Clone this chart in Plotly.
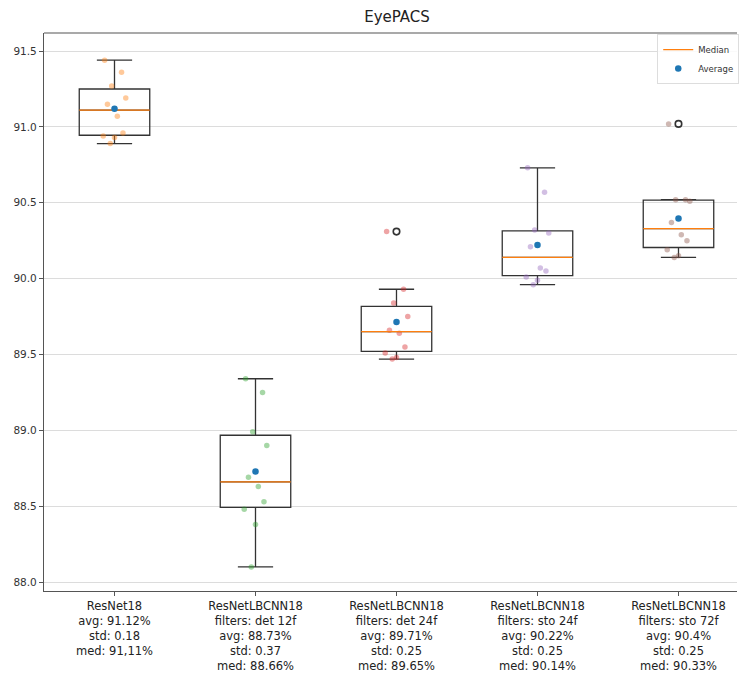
import numpy as np
import plotly.graph_objects as go

# ---------------- data ----------------
chart_title = "EyePACS"
positions = [1, 2, 3, 4, 5]

resnet18 = [91.44, 91.36, 91.27, 91.19, 91.15, 91.07, 90.96, 90.94, 90.93, 90.89]
det_12f = [89.34, 89.25, 88.99, 88.90, 88.69, 88.63, 88.53, 88.48, 88.38, 88.10]
det_24f = [90.31, 89.93, 89.84, 89.75, 89.66, 89.64, 89.55, 89.51, 89.48, 89.47]
sto_24f = [90.73, 90.57, 90.32, 90.30, 90.21, 90.07, 90.05, 90.01, 89.99, 89.96]
sto_72f = [91.02, 90.52, 90.52, 90.51, 90.37, 90.29, 90.25, 90.19, 90.15, 90.14]
series = [resnet18, det_12f, det_24f, sto_24f, sto_72f]

model_labels = ["ResNet18", "ResNetLBCNN18", "ResNetLBCNN18", "ResNetLBCNN18", "ResNetLBCNN18"]
filter_labels = ["", "filters: det 12f", "filters: det 24f", "filters: sto 24f", "filters: sto 72f"]
avg_labels = ["avg: 91.12%", "avg: 88.73%", "avg: 89.71%", "avg: 90.22%", "avg: 90.4%"]
std_labels = ["std: 0.18", "std: 0.37", "std: 0.25", "std: 0.25", "std: 0.25"]
med_labels = ["med: 91,11%", "med: 88.66%", "med: 89.65%", "med: 90.14%", "med: 90.33%"]

y_ticks = [88.0, 88.5, 89.0, 89.5, 90.0, 90.5, 91.0, 91.5]

# ---------------- style ----------------
point_colors = ["rgba(255,127,14,0.42)", "rgba(44,160,44,0.42)", "rgba(214,39,40,0.42)",
                "rgba(148,103,189,0.42)", "rgba(140,86,75,0.42)"]
jitter = [-0.07, 0.05, -0.02, 0.08, -0.05, 0.02, 0.06, -0.08, 0.0, -0.03]
box_w = 0.5
font = "DejaVu Sans"
dark = "#333333"

tick_text = []
for m, f, a, s, md in zip(model_labels, filter_labels, avg_labels, std_labels, med_labels):
    lines = [m] + ([f] if f else []) + [a, s, md]
    tick_text.append("<br>".join(lines))

fig = go.Figure()

stats = []
for pos, vals in zip(positions, series):
    v = np.array(vals)
    q1, med, q3 = np.percentile(v, [25, 50, 75])
    iqr = q3 - q1
    lo_lim, hi_lim = q1 - 1.5 * iqr, q3 + 1.5 * iqr
    inside = v[(v >= lo_lim) & (v <= hi_lim)]
    fliers = v[(v < lo_lim) | (v > hi_lim)]
    stats.append(dict(pos=pos, q1=q1, med=med, q3=q3, lo=inside.min(), hi=inside.max(),
                      fliers=fliers, mean=v.mean()))

# boxes
for s in stats:
    fig.add_trace(go.Box(
        x=[s["pos"]], q1=[s["q1"]], median=[s["med"]], q3=[s["q3"]],
        lowerfence=[s["lo"]], upperfence=[s["hi"]],
        width=box_w, whiskerwidth=0.5, boxpoints=False,
        line=dict(color=dark, width=1.3), fillcolor="rgba(0,0,0,0)",
        showlegend=False, hoverinfo="skip"))

# strip points
for pos, vals, col in zip(positions, series, point_colors):
    fig.add_trace(go.Scatter(
        x=[pos + j for j in jitter[:len(vals)]], y=vals, mode="markers",
        marker=dict(color=col, size=5.5, line=dict(width=0)),
        showlegend=False, hoverinfo="skip"))

# fliers
for s in stats:
    if len(s["fliers"]):
        fig.add_trace(go.Scatter(
            x=[s["pos"]] * len(s["fliers"]), y=list(s["fliers"]), mode="markers",
            marker=dict(symbol="circle-open", color=dark, size=6.5, line=dict(width=1.6)),
            showlegend=False, hoverinfo="skip"))

# medians
for i, s in enumerate(stats):
    fig.add_trace(go.Scatter(
        x=[s["pos"] - box_w / 2, s["pos"] + box_w / 2], y=[s["med"], s["med"]],
        mode="lines", line=dict(color="#ff7f0e", width=1.3),
        name="Median", legendgroup="median", showlegend=(i == 0), hoverinfo="skip"))

# means
fig.add_trace(go.Scatter(
    x=[s["pos"] for s in stats], y=[s["mean"] for s in stats], mode="markers",
    marker=dict(color="#1f77b4", size=6.5), name="Average", hoverinfo="skip"))

# top spine (axes frame, cut off on the right like the reference)
fig.add_shape(type="line", xref="paper", yref="paper", x0=0, x1=1, y0=1, y1=1,
              line=dict(color="#555555", width=1.2))

fig.update_layout(
    width=740, height=676,
    margin=dict(l=44, r=1, t=33, b=85),
    paper_bgcolor="white", plot_bgcolor="white",
    font=dict(family=font, color=dark),
    title=dict(text=chart_title, x=397 / 740, xanchor="center", xref="container",
               y=1 - 17 / 676, yanchor="middle", yref="container",
               font=dict(size=15, color="#222222", family=font)),
    legend=dict(x=(659 - 44) / 695, y=0.998, xanchor="left", yanchor="top",
                bgcolor="rgba(255,255,255,0.85)",
                bordercolor="#dddddd", borderwidth=1, font=dict(size=8.5, color=dark),
                tracegroupgap=0, itemwidth=30),
    showlegend=True,
)
fig.update_xaxes(
    range=[0.5, 5.415], tickvals=positions, ticktext=tick_text, automargin=False,
    showgrid=False, zeroline=False, showline=True, linecolor="#555555", linewidth=1.2,
    mirror=False, ticks="outside", ticklen=4, tickcolor="#555555",
    tickfont=dict(size=11.5, color="#222222", family=font))
fig.update_yaxes(
    range=[87.941, 91.619], tickvals=y_ticks, tickformat=".1f", automargin=False,
    showgrid=True, gridcolor="#dcdcdc", gridwidth=1, zeroline=False,
    showline=True, linecolor="#555555", linewidth=1.2, mirror=False,
    ticks="outside", ticklen=4, tickcolor="#555555",
    tickfont=dict(size=10.5, color="#333333", family=font))

fig.write_html("out.html", config={"displayModeBar": False},
               post_script="document.body.style.margin='0';")
